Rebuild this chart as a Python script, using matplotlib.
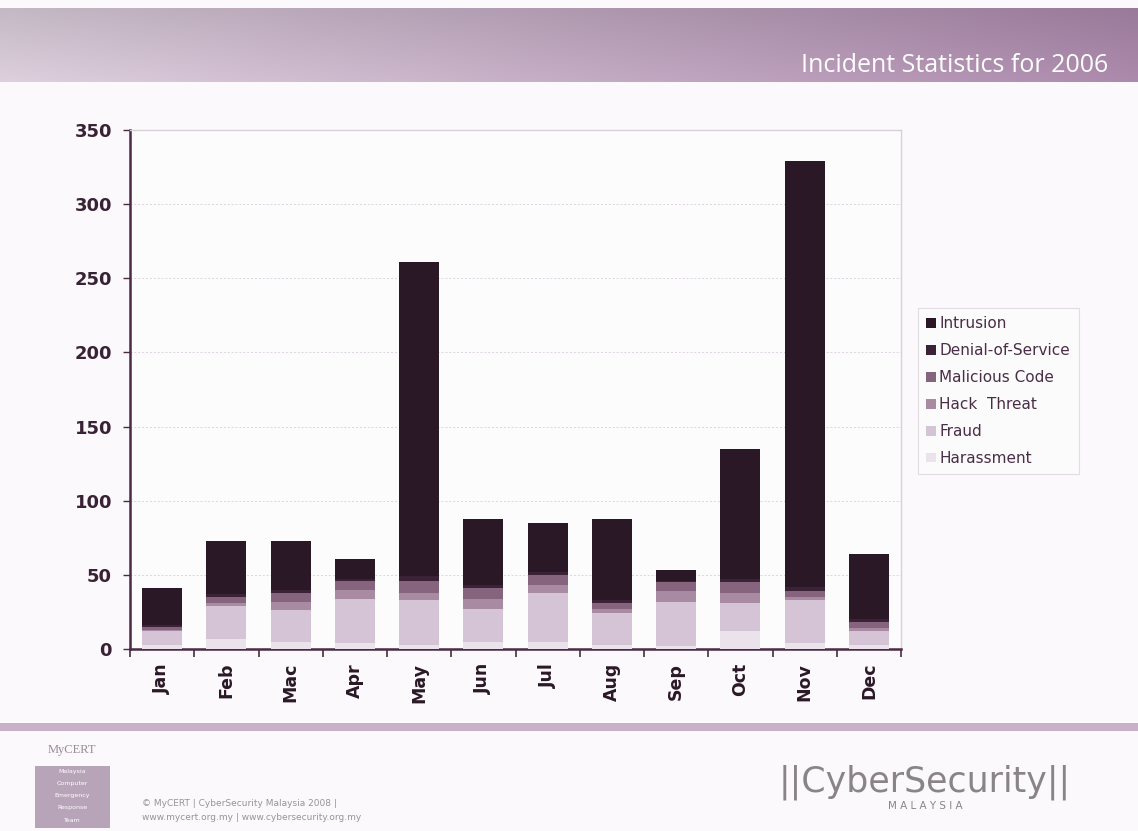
import numpy as np
import matplotlib
matplotlib.use("Agg")
import matplotlib.pyplot as plt
from matplotlib.patches import Rectangle

months = ["Jan", "Feb", "Mac", "Apr", "May", "Jun", "Jul", "Aug", "Sep", "Oct", "Nov", "Dec"]
series_names = ["Harassment", "Fraud", "Hack  Threat", "Malicious Code", "Denial-of-Service", "Intrusion"]
harassment = [3, 7, 5, 4, 3, 5, 5, 3, 2, 12, 4, 3]
fraud = [9, 22, 21, 30, 30, 22, 33, 21, 30, 19, 29, 9]
hack_threat = [1, 2, 6, 6, 5, 7, 5, 3, 7, 7, 2, 2]
malicious_code = [2, 4, 6, 6, 8, 7, 7, 4, 6, 7, 4, 4]
denial_of_service = [1, 2, 2, 1, 3, 2, 2, 2, 1, 2, 3, 2]
intrusion = [25, 36, 33, 14, 212, 45, 33, 55, 7, 88, 287, 44]
y_ticks = [0, 50, 100, 150, 200, 250, 300, 350]

series = [harassment, fraud, hack_threat, malicious_code, denial_of_service, intrusion]
colors = ["#ebe3ec", "#d5c4d6", "#a98aa3", "#86647e", "#3b2236", "#2a1827"]

W, H = 1138, 831
fig = plt.figure(figsize=(W / 100, H / 100), dpi=100)
fig.patch.set_facecolor("#fbf9fb")

# Header gradient band
hdr = fig.add_axes([0, 1 - 82 / H, 1, 74 / H])
hdr.set_axis_off()
xs = np.linspace(0, 1, 300)
ys = np.linspace(0, 1, 60)
X, Y = np.meshgrid(xs, ys)
c_left = np.array([0.82, 0.77, 0.82])
c_right = np.array([0.64, 0.51, 0.64])
base = c_left[None, None, :] * (1 - X[..., None]) + c_right[None, None, :] * X[..., None]
img = np.clip(base * (1.06 - 0.12 * Y[..., None]), 0, 1)
hdr.imshow(img, aspect="auto", extent=[0, 1, 0, 1], origin="lower")
hdr.set_xlim(0, 1); hdr.set_ylim(0, 1)
fig.text(1108 / W, 1 - 65 / H, "Incident Statistics for 2006", color="white",
         fontsize=18, ha="right", va="center", family="Open Sans")

# Footer bar
fig.patches.append(Rectangle((0, 1 - 731 / H), 1, 8 / H, transform=fig.transFigure,
                             facecolor="#c9b2c9", edgecolor="none", zorder=1))

# Main axes
ax = fig.add_axes([130 / W, 1 - 649 / H, (901 - 130) / W, (649 - 130) / H])
ax.set_facecolor("#fdfcfd")
x = np.arange(len(months))
bottom = np.zeros(len(months))
handles = []
for vals, col, name in zip(series, colors, series_names):
    b = ax.bar(x, vals, width=0.62, bottom=bottom, color=col, edgecolor="none", label=name, zorder=3)
    handles.append(b)
    bottom += np.array(vals)

ax.set_xlim(-0.5, len(months) - 0.5)
ax.set_ylim(0, 350)
ax.set_yticks(y_ticks)
ax.set_yticklabels([str(v) for v in y_ticks], fontsize=13, fontweight="bold", color="#3a2236",
                   family="DejaVu Sans")
ax.yaxis.grid(True, color="#ddd3e0", linestyle=(0, (2, 2)), linewidth=0.7, zorder=0)
ax.set_xticks(x)
ax.set_xticklabels(months, rotation=90, fontsize=12.5, fontweight="bold", color="#2a1827")
ax.set_xticks(np.arange(len(months) + 1) - 0.5, minor=True)
ax.tick_params(axis="x", which="major", length=0, pad=10)
ax.tick_params(axis="x", which="minor", length=6, width=1.2, color="#4a2a45", direction="out")
ax.tick_params(axis="y", length=5, width=1.0, color="#4a2a45", pad=8)
for side in ["left", "bottom"]:
    ax.spines[side].set_color("#4a2a45")
    ax.spines[side].set_linewidth(1.8)
for side in ["top", "right"]:
    ax.spines[side].set_color("#d8d0d8")
    ax.spines[side].set_linewidth(1.0)

leg = fig.legend(handles[::-1], [h.get_label() for h in handles[::-1]],
                 loc="upper left", bbox_to_anchor=(918 / W, 1 - 308 / H),
                 borderaxespad=0, fontsize=11, frameon=True, fancybox=False,
                 handlelength=0.6, handleheight=0.6, handletextpad=0.25,
                 labelspacing=0.78, borderpad=0.55, edgecolor="#dcd6dc")
leg.get_frame().set_linewidth(0.8)
leg.get_frame().set_facecolor("#fdfcfd")
for t in leg.get_texts():
    t.set_color("#4a2d47")

# Footer: MyCERT logo and texts
fig.text(72 / W, 1 - 750 / H, "MyCERT", fontsize=9, color="#9a8a9a", family="Liberation Serif",
         ha="center", va="center")
fig.patches.append(Rectangle((35 / W, 1 - 828 / H), 75 / W, 62 / H, transform=fig.transFigure,
                             facecolor="#b8a4b8", edgecolor="none", zorder=1))
for i, wd in enumerate(["Malaysia", "Computer", "Emergency", "Response", "Team"]):
    fig.text(72 / W, 1 - (772 + i * 12) / H, wd, fontsize=4.5, color="white",
             ha="center", va="center")
fig.text(142 / W, 1 - 803 / H, "© MyCERT | CyberSecurity Malaysia 2008 |", fontsize=6.5,
         color="#9a929a", ha="left", va="center")
fig.text(142 / W, 1 - 818 / H, "www.mycert.org.my | www.cybersecurity.org.my", fontsize=6.5,
         color="#9a929a", ha="left", va="center")
fig.text(925 / W, 1 - 782 / H, "||CyberSecurity||", fontsize=25, color="#8a848a",
         ha="center", va="center", family="DejaVu Sans")
fig.text(925 / W, 1 - 806 / H, "M A L A Y S I A", fontsize=7.5, color="#8a848a",
         ha="center", va="center")

fig.savefig("out.png", dpi=100, facecolor=fig.get_facecolor())
